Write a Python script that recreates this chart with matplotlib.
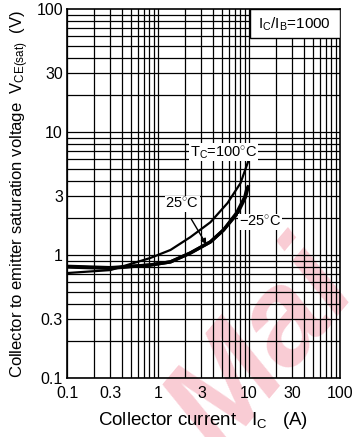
import numpy as np
import matplotlib
matplotlib.use("Agg")
import matplotlib.pyplot as plt
from matplotlib.patches import Rectangle

plt.rcParams['font.family'] = ['Liberation Sans', 'DejaVu Sans']
plt.rcParams['mathtext.fontset'] = 'custom'
plt.rcParams['mathtext.rm'] = 'Liberation Sans'
plt.rcParams['mathtext.it'] = 'Liberation Sans'

# VCE(sat) vs IC, IC/IB = 1000
ic_100 = [0.1, 0.3, 0.82, 1.37, 2.27, 3.77, 5.81, 8.07, 9.9]
vce_100 = [0.714, 0.755, 0.946, 1.10, 1.40, 1.85, 2.65, 3.85, 5.9]

ic_25 = [0.1, 0.3, 0.82, 1.37, 2.27, 3.77, 5.25, 7.5, 9.17, 9.9]
vce_25 = [0.80, 0.78, 0.83, 0.88, 1.04, 1.28, 1.60, 2.19, 2.97, 3.7]

ic_m25 = [0.1, 0.3, 0.82, 1.37, 2.27, 3.77, 5.25, 7.3, 9.0, 9.6]
vce_m25 = [0.81, 0.79, 0.83, 0.88, 1.04, 1.28, 1.60, 2.2, 2.97, 3.6]

ticks = [0.1, 0.3, 1, 3, 10, 30, 100]
tick_labels = ['0.1', '0.3', '1', '3', '10', '30', '100']

fig = plt.figure(figsize=(3.53, 4.37), dpi=100)
ax = fig.add_axes([0.190, 0.135, 0.773, 0.844])
ax.set_facecolor('none')

# watermark sits behind the grid
fig.text(0.745, 0.20, 'Mai', fontsize=95, color='#f9ccd4', rotation=50,
         ha='center', va='center', zorder=-1, style='italic', fontweight='bold')

ax.set_xscale('log')
ax.set_yscale('log')
ax.set_xlim(0.1, 100)
ax.set_ylim(0.1, 100)

# full log grid
for v in [0.1, 1, 10]:
    for k in range(1, 10):
        g = v * k
        if g < 100:
            ax.axvline(g, color='black', lw=0.9, zorder=1)
            ax.axhline(g, color='black', lw=0.9, zorder=1)

ax.plot(ic_100, vce_100, color='black', lw=1.6, zorder=3, solid_capstyle='butt')
ax.plot(ic_25, vce_25, color='black', lw=2.4, zorder=3, solid_capstyle='butt')
ax.plot(ic_m25, vce_m25, color='black', lw=2.4, zorder=3, solid_capstyle='butt')

ax.set_xticks(ticks)
ax.set_xticklabels(tick_labels)
ax.set_yticks(ticks)
ax.set_yticklabels(tick_labels)
ax.minorticks_off()
ax.tick_params(length=0, labelsize=11.5)
ax.tick_params(axis='x', pad=6)
ax.tick_params(axis='y', pad=3)
for s in ax.spines.values():
    s.set_linewidth(1.2)

box = dict(facecolor='white', edgecolor='none', pad=0.5)
ax.text(5.3, 6.85, r'T$_{\rm C}$=100$^{\circ}$C', fontsize=10.5, ha='center', va='center',
        bbox=box, zorder=4)
ax.annotate(r'25$^{\circ}$C', xy=(3.4, 1.22), xytext=(1.85, 2.6), fontsize=10.5,
            ha='center', va='center', bbox=box, zorder=4,
            arrowprops=dict(arrowstyle='-|>', color='black', lw=1.0,
                            mutation_scale=8, shrinkA=6, shrinkB=0))
ax.text(13.3, 1.85, r'$-$25$^{\circ}$C', fontsize=10.5, ha='center', va='center',
        bbox=box, zorder=4)

# ratio box in the top right corner
ax.add_patch(Rectangle((0.670, 0.921), 0.33, 0.079, transform=ax.transAxes,
                       facecolor='white', edgecolor='black', lw=1.0, zorder=5))
ax.text(0.835, 0.960, r'I$_{\rm C}$/I$_{\rm B}$=1000', transform=ax.transAxes,
        fontsize=11, ha='center', va='center', zorder=6)

ax.set_xlabel(r'Collector current   I$_{\rm C}$   (A)', fontsize=13.5, labelpad=6)
ax.set_ylabel(r'Collector to emitter saturation voltage  V$_{\rm CE(sat)}$  (V)',
              fontsize=12, labelpad=4)

fig.savefig('out.png', dpi=100)
